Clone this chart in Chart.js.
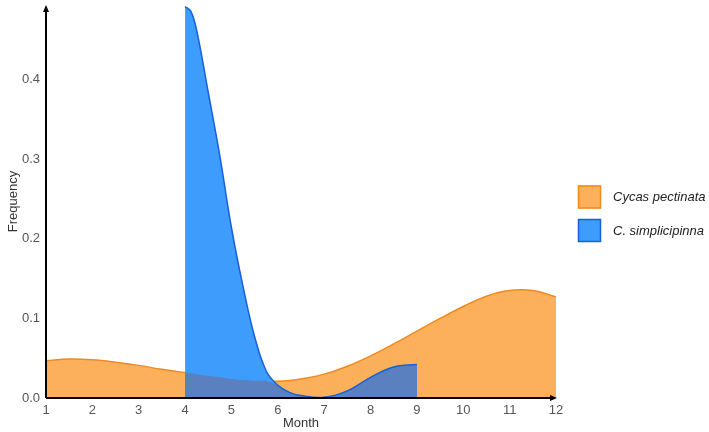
<!DOCTYPE html>
<html>
<head>
<meta charset="utf-8">
<script src="https://cdn.jsdelivr.net/npm/chart.js@4.4.1/dist/chart.umd.min.js"></script>
<style>
html,body{margin:0;padding:0;background:#fff;}
#wrap{position:relative;width:709px;height:432px;}
</style>
</head>
<body>
<div id="wrap"><canvas id="c" width="709" height="432"></canvas></div>
<script>
// Month grid (common x positions)
const months = [1,1.5,2,2.5,3,3.5,4,4.125,4.25,4.5,4.75,5,5.25,5.5,5.75,6,6.25,6.5,7,7.5,8,8.5,9,9.5,10,10.5,11,11.5,12];
// Cycas pectinata frequency at each month position
const pectinata = [0.047,0.049,0.048,0.045,0.041,0.036,0.032,0.031,0.030,0.028,0.026,0.024,0.0225,0.0215,0.021,0.021,0.022,0.024,0.030,0.040,0.053,0.068,0.084,0.100,0.115,0.128,0.135,0.135,0.127];
// C. simplicipinna frequency (only months 4..9); null = no data
const simplicipinna = [null,null,null,null,null,null,0.492,0.486,0.462,0.384,0.304,0.214,0.140,0.077,0.034,0.016,0.007,0.003,0.001,0.009,0.026,0.039,0.042,null,null,null,null,null,null];
const seriesNames = ['Cycas pectinata','C. simplicipinna'];
const yTicks = [0.0,0.1,0.2,0.3,0.4];
const xTicks = [1,2,3,4,5,6,7,8,9,10,11,12];

const orangeFill = '#fdb05c', orangeLine = '#ef8a1e';
const blueFill = '#3d9cfc', blueLine = '#1760d8';
const overlapFill = '#5a80c0';

const toPts = arr => months.map((m,i)=>({x:m,y:arr[i]})).filter(p=>p.y!==null);
const overlap = months.map((m,i)=> simplicipinna[i]===null ? null : Math.min(simplicipinna[i], pectinata[i]));

const axisPlugin = {
  id:'axes',
  afterDraw(chart){
    const {ctx, chartArea:a} = chart;
    ctx.save();
    ctx.strokeStyle='#000'; ctx.fillStyle='#000'; ctx.lineWidth=2;
    ctx.beginPath();
    ctx.moveTo(a.left, a.bottom); ctx.lineTo(a.left, a.top+4);
    ctx.moveTo(a.left, a.bottom); ctx.lineTo(a.right-4, a.bottom);
    ctx.stroke();
    ctx.beginPath();
    ctx.moveTo(a.left, a.top); ctx.lineTo(a.left-3, a.top+7); ctx.lineTo(a.left+3, a.top+7); ctx.closePath(); ctx.fill();
    ctx.beginPath();
    ctx.moveTo(a.right+1, a.bottom); ctx.lineTo(a.right-6, a.bottom-3); ctx.lineTo(a.right-6, a.bottom+3); ctx.closePath(); ctx.fill();
    const items = [[seriesNames[0], orangeFill, orangeLine],[seriesNames[1], blueFill, blueLine]];
    ctx.font = 'italic 13px "Liberation Sans", Arial, sans-serif';
    ctx.textBaseline='middle'; ctx.textAlign='left';
    items.forEach((it,i)=>{
      const y = 185.5 + i*33.5;
      ctx.fillStyle = it[1]; ctx.fillRect(578, y, 23, 23);
      ctx.strokeStyle = it[2]; ctx.lineWidth=1.5; ctx.strokeRect(578.5, y+0.5, 22, 22);
      ctx.fillStyle = '#222'; ctx.fillText(it[0], 613, y+12);
    });
    ctx.restore();
  }
};

const common = {pointRadius:0, tension:0.4};
new Chart(document.getElementById('c'), {
  type:'line',
  data:{
    datasets:[
      Object.assign({label:'blueLine', data:toPts(simplicipinna), borderColor:blueLine, borderWidth:1.5, fill:false}, common),
      Object.assign({label:'overlap', data:toPts(overlap), borderWidth:0, borderColor:'rgba(0,0,0,0)', backgroundColor:overlapFill, fill:'origin'}, common),
      Object.assign({label:seriesNames[1], data:toPts(simplicipinna), borderColor:'rgba(0,0,0,0)', borderWidth:0, backgroundColor:blueFill, fill:'origin'}, common),
      Object.assign({label:seriesNames[0], data:toPts(pectinata), borderColor:orangeLine, borderWidth:1.5, backgroundColor:orangeFill, fill:'origin'}, common)
    ]
  },
  options:{
    responsive:false, animation:false,
    layout:{padding:{top:5,right:153,left:0,bottom:0}},
    plugins:{legend:{display:false}, tooltip:{enabled:false}},
    scales:{
      x:{type:'linear', min:1, max:12,
        afterBuildTicks(s){ s.ticks = xTicks.map(v=>({value:v})); },
        afterFit(s){ s.height = 34; s.paddingLeft = 0; s.paddingRight = 0; },
        grid:{display:false, drawTicks:false}, border:{display:false},
        ticks:{color:'#555', font:{family:'"Liberation Sans", Arial, sans-serif', size:13}, padding:5, maxRotation:0, autoSkip:false},
        title:{display:true, text:'Month', color:'#333', font:{family:'"Liberation Sans", Arial, sans-serif', size:13}, padding:{top:0,bottom:1}}
      },
      y:{min:0, max:0.494,
        afterBuildTicks(s){ s.ticks = yTicks.map(v=>({value:v})); },
        afterFit(s){ s.width = 46; s.paddingTop = 0; s.paddingBottom = 0; },
        grid:{display:false, drawTicks:false}, border:{display:false},
        ticks:{color:'#555', font:{family:'"Liberation Sans", Arial, sans-serif', size:13}, padding:6, callback:v=>v.toFixed(1)},
        title:{display:true, text:'Frequency', color:'#333', font:{family:'"Liberation Sans", Arial, sans-serif', size:13}, padding:{top:6,bottom:0}}
      }
    }
  },
  plugins:[axisPlugin]
});
</script>
</body>
</html>
